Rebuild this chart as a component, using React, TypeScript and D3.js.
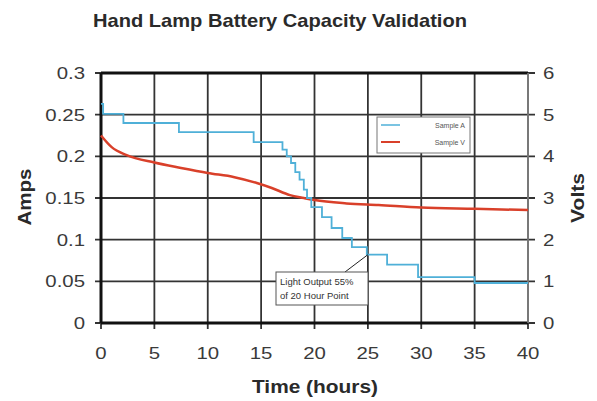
import React from 'react';
import * as d3 from 'd3';

// Sample A: current steps (hours, amps)
const sampleAHours = [0, 0.2, 2.1, 7.3, 14.3, 17.0, 17.4, 17.8, 18.2, 18.6, 19.0, 19.3, 19.7, 20.7, 21.6, 22.6, 23.5, 24.9, 26.8, 29.7, 35.0, 40];
const sampleAAmps = [0.263, 0.251, 0.240, 0.229, 0.217, 0.208, 0.200, 0.192, 0.181, 0.172, 0.160, 0.150, 0.139, 0.127, 0.114, 0.102, 0.091, 0.082, 0.070, 0.055, 0.048, 0.048];

// Sample V: voltage curve (hours, volts)
const sampleVHours = [0, 1, 2.4, 5, 7.5, 10, 12.5, 14.6, 16, 17.7, 19, 20, 23, 26, 30, 35, 40];
const sampleVVolts = [4.5, 4.22, 4.03, 3.85, 3.72, 3.6, 3.5, 3.36, 3.24, 3.07, 3.0, 2.95, 2.87, 2.83, 2.77, 2.74, 2.71];

const xTicks = [0, 5, 10, 15, 20, 25, 30, 35, 40];
const ampTicks = [0, 0.05, 0.1, 0.15, 0.2, 0.25, 0.3];
const voltTicks = [0, 1, 2, 3, 4, 5, 6];

const annotationHour = 25;
const annotationAmps = 0.082;

const W = 597;
const H = 401;
const margin = { top: 73, right: 69, bottom: 78, left: 101 };

export default function App() {
  const x = d3.scaleLinear().domain([0, 40]).range([margin.left, W - margin.right]);
  const yA = d3.scaleLinear().domain([0, 0.3]).range([H - margin.bottom, margin.top]);
  const yV = d3.scaleLinear().domain([0, 6]).range([H - margin.bottom, margin.top]);

  const lineA = d3.line<number>()
    .x((_, i) => x(sampleAHours[i]))
    .y((d) => yA(d))
    .curve(d3.curveStepAfter);
  const lineV = d3.line<number>()
    .x((_, i) => x(sampleVHours[i]))
    .y((d) => yV(d))
    .curve(d3.curveMonotoneX);

  const x0 = x(0), x1 = x(40), y0 = yA(0), y1 = yA(0.3);
  const font = 'Liberation Sans, Arial, sans-serif';
  const tickColor = '#3a3a3a';
  const stretch = 'scale(1.2,1)'; // the original is a bit wide

  const ax = x(annotationHour), ay = yA(annotationAmps);

  return (
    <svg width={W} height={H} style={{ position: 'absolute', left: 0, top: 0, background: '#fff' }} fontFamily={font}>
      <text x={280} y={27} textAnchor="middle" fontSize={19} fontWeight="bold" fill="#2a2a2a"
        textLength={374} lengthAdjust="spacingAndGlyphs">
        Hand Lamp Battery Capacity Validation
      </text>

      {/* grid */}
      {ampTicks.map((t) => (
        <line key={'h' + t} x1={x0 - 6} x2={x1 + 7} y1={yA(t)} y2={yA(t)} stroke="#333" strokeWidth={1.8} />
      ))}
      {xTicks.map((t) => (
        <line key={'v' + t} x1={x(t)} x2={x(t)} y1={y1} y2={y0 + 6} stroke="#333" strokeWidth={1.8} />
      ))}
      {/* frame */}
      <line x1={x0} x2={x1} y1={y1} y2={y1} stroke="#111" strokeWidth={3} />
      <line x1={x0} x2={x1} y1={y0} y2={y0} stroke="#111" strokeWidth={3} />
      <line x1={x0} x2={x0} y1={y1} y2={y0} stroke="#111" strokeWidth={3} />
      <line x1={x1} x2={x1} y1={y1} y2={y0} stroke="#888" strokeWidth={1.5} />

      {/* series */}
      <path d={lineV(sampleVVolts) ?? ''} fill="none" stroke="#d9402a" strokeWidth={2.5} />
      <path d={lineA(sampleAAmps) ?? ''} fill="none" stroke="#4fb0d8" strokeWidth={1.8} />

      {/* tick labels */}
      {ampTicks.map((t) => (
        <text key={'la' + t} transform={`translate(85,${yA(t) + 6}) ${stretch}`} textAnchor="end" fontSize={17} fill={tickColor}>
          {String(t)}
        </text>
      ))}
      {voltTicks.map((t) => (
        <text key={'rv' + t} transform={`translate(543,${yV(t) + 6}) ${stretch}`} textAnchor="start" fontSize={17} fill={tickColor}>
          {String(t)}
        </text>
      ))}
      {xTicks.map((t) => (
        <text key={'xt' + t} transform={`translate(${x(t)},359) ${stretch}`} textAnchor="middle" fontSize={17} fill={tickColor}>
          {String(t)}
        </text>
      ))}

      {/* axis titles */}
      <text transform="translate(31,197) rotate(-90)" textAnchor="middle" fontSize={18} fontWeight="bold" fill="#2a2a2a"
        textLength={57} lengthAdjust="spacingAndGlyphs">Amps</text>
      <text transform="translate(584,198) rotate(-90)" textAnchor="middle" fontSize={18} fontWeight="bold" fill="#2a2a2a"
        textLength={50} lengthAdjust="spacingAndGlyphs">Volts</text>
      <text x={315} y={393} textAnchor="middle" fontSize={18} fontWeight="bold" fill="#2a2a2a"
        textLength={126} lengthAdjust="spacingAndGlyphs">Time (hours)</text>

      {/* legend */}
      <rect x={377} y={117} width={93} height={36} fill="#fff" stroke="#777" strokeWidth={1} />
      <line x1={381} x2={400} y1={125} y2={125} stroke="#4fb0d8" strokeWidth={1.5} />
      <line x1={381} x2={400} y1={142} y2={142} stroke="#d9402a" strokeWidth={2} />
      <text x={465} y={128} textAnchor="end" fontSize={7} fill="#555">Sample A</text>
      <text x={465} y={145} textAnchor="end" fontSize={7} fill="#555">Sample V</text>

      {/* annotation */}
      <line x1={345} y1={272} x2={ax} y2={ay} stroke="#222" strokeWidth={1} />
      <rect x={276} y={272} width={92} height={33} fill="#fff" stroke="#555" strokeWidth={1} />
      <text x={280} y={285} fontSize={9.5} fill="#333">Light Output 55%</text>
      <text x={280} y={299} fontSize={9.5} fill="#333">of 20 Hour Point</text>
    </svg>
  );
}
